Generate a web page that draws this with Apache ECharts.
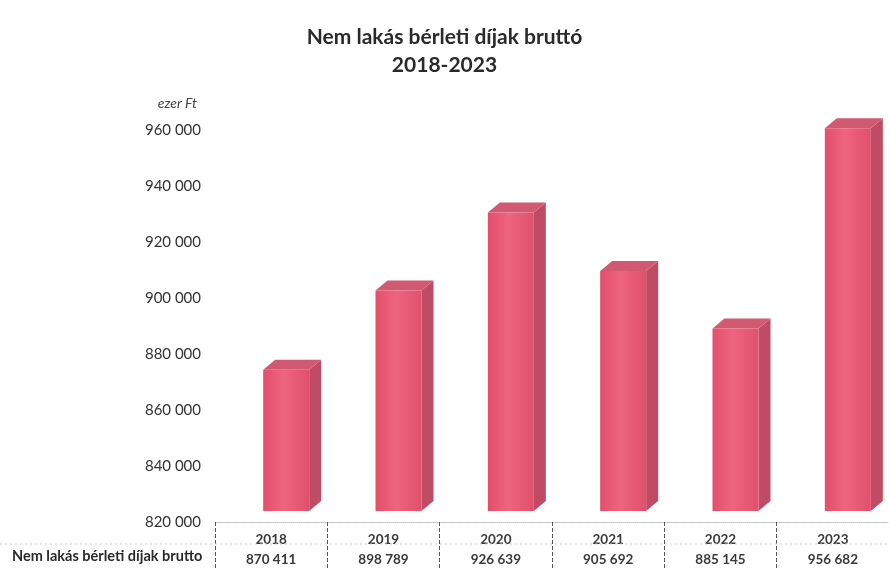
<!DOCTYPE html>
<html>
<head>
<meta charset="utf-8">
<script src="https://cdn.jsdelivr.net/npm/echarts@6/dist/echarts.min.js"></script>
<style>html,body{margin:0;padding:0;background:#fff;}#main{width:889px;height:568px;}</style>
</head>
<body>
<div id="main"></div>
<script>
const categories = ['2018', '2019', '2020', '2021', '2022', '2023'];
const values = [870411, 898789, 926639, 905692, 885145, 956682];
const seriesName = 'Nem lakás bérleti díjak brutto';
const yMin = 820000, yMax = 960000, yStep = 20000;

const fmt = v => String(v).replace(/\B(?=(\d{3})+(?!\d))/g, ' ');
const FONT = 'Lato, "Open Sans", sans-serif';

const chart = echarts.init(document.getElementById('main'));
chart.setOption({
  backgroundColor: '#fff',
  animation: false,
  title: {
    text: 'Nem lakás bérleti díjak bruttó\n2018-2023',
    left: 'center',
    top: 18,
    textStyle: { fontFamily: FONT, fontWeight: 'bold', fontSize: 21, color: '#2a2a2a', lineHeight: 28 }
  },
  grid: { left: 215, right: 0, top: 130, bottom: 46, containLabel: false },
  xAxis: {
    type: 'category',
    data: categories,
    axisLine: { show: true, lineStyle: { color: '#bbb', type: 'dotted', width: 1 } },
    axisTick: { show: true, length: 48, lineStyle: { color: '#555', type: 'dashed', width: 1 } },
    axisLabel: {
      margin: 8,
      fontFamily: FONT,
      formatter: (v, i) => '{y|' + v + '}\n{v|' + fmt(values[i]) + '}',
      rich: {
        y: { fontFamily: FONT, fontSize: 13.5, fontWeight: 'bold', color: '#3a3a3a', lineHeight: 20 },
        v: { fontFamily: FONT, fontSize: 13.5, fontWeight: 'bold', color: '#3a3a3a', lineHeight: 20 }
      }
    }
  },
  yAxis: {
    type: 'value',
    min: yMin, max: yMax, interval: yStep,
    name: 'ezer Ft',
    nameGap: 20,
    nameTextStyle: { fontFamily: FONT, fontStyle: 'italic', fontSize: 14, color: '#444', align: 'right', padding: [0, 18, 0, 0] },
    axisLine: { show: false },
    axisTick: { show: false },
    splitLine: { show: false },
    axisLabel: { margin: 14, fontFamily: FONT, fontSize: 15, color: '#333', formatter: v => fmt(v) }
  },
  graphic: [
    { type: 'line', shape: { x1: 0, y1: 544, x2: 889, y2: 544 }, style: { stroke: '#ccc', lineDash: [2, 3], lineWidth: 1 }, z: 1 },
    { type: 'text', left: 12, top: 549, style: { text: seriesName, font: 'bold 14.5px ' + FONT, fill: '#2a2a2a' } }
  ],
  series: [{
    type: 'custom',
    name: seriesName,
    data: values.map((v, i) => [i, v]),
    renderItem: function (params, api) {
      const idx = api.value(0);
      const top = api.coord([idx, api.value(1)]);
      const base = api.coord([idx, yMin]);
      const lift = 11, dx = 12, dy = 10, w = 46;
      const x0 = top[0] - 8, x1 = x0 + w;
      const yt = top[1] - lift, yb = base[1] - lift;
      return {
        type: 'group',
        children: [
          { type: 'polygon', shape: { points: [[x1, yt], [x1 + dx, yt - dy], [x1 + dx, yb - dy], [x1, yb]] },
            style: { fill: '#bf4b64' } },
          { type: 'polygon', shape: { points: [[x0, yt], [x0 + dx, yt - dy], [x1 + dx, yt - dy], [x1, yt]] },
            style: { fill: '#d15a72' } },
          { type: 'rect', shape: { x: x0, y: yt, width: w, height: yb - yt },
            style: { fill: new echarts.graphic.LinearGradient(0, 0, 1, 0, [
              { offset: 0, color: '#e24f6b' }, { offset: 0.45, color: '#ef647f' }, { offset: 1, color: '#e0506c' }]) } }
        ]
      };
    }
  }]
});
</script>
</body>
</html>
